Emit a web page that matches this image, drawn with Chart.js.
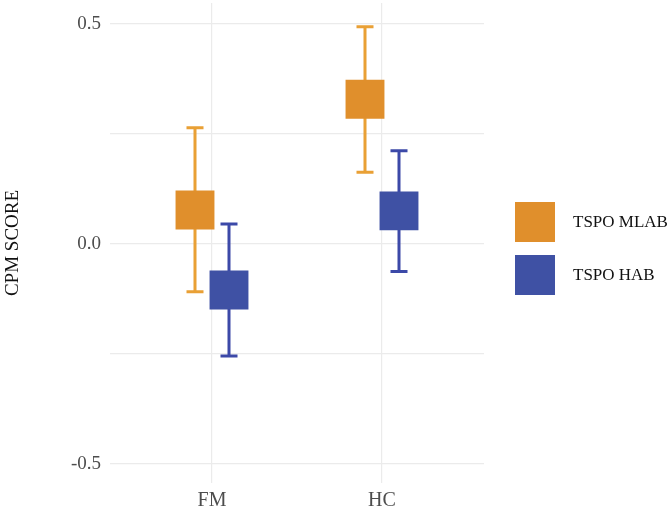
<!DOCTYPE html>
<html>
<head>
<meta charset="utf-8">
<script src="https://cdn.jsdelivr.net/npm/chart.js"></script>
<style>
  html, body { margin: 0; padding: 0; background: #fff; }
  #wrap { width: 671px; height: 511px; }
</style>
</head>
<body>
<div id="wrap"><canvas id="chart" width="671" height="511"></canvas></div>
<script>
// data
const categories = ['FM', 'HC'];
const seriesNames = ['TSPO MLAB', 'TSPO HAB'];
const mlabMean = [0.077, 0.329];
const mlabLow = [-0.109, 0.163];
const mlabHigh = [0.264, 0.494];
const habMean = [-0.105, 0.075];
const habLow = [-0.255, -0.063];
const habHigh = [0.045, 0.212];
const yTicks = [-0.5, -0.25, 0, 0.25, 0.5];

const dodge = 0.1;
const serif = '"Liberation Serif", "Times New Roman", serif';

function points(means, shift) {
    return categories.map((c, i) => ({ x: i + 1 + shift, y: means[i] }));
}

// error bars drawn under the squares, positioned through the scales
const errorBars = {
    id: 'errorBars',
    beforeDatasetsDraw(chart) {
        const ctx = chart.ctx;
        const yScale = chart.scales.y;
        chart.data.datasets.forEach((ds, i) => {
            const meta = chart.getDatasetMeta(i);
            meta.data.forEach((pt, j) => {
                const x = pt.x;
                const top = yScale.getPixelForValue(ds.high[j]);
                const bot = yScale.getPixelForValue(ds.low[j]);
                ctx.save();
                ctx.strokeStyle = ds.barColor;
                ctx.lineWidth = 3;
                ctx.beginPath();
                ctx.moveTo(x, top); ctx.lineTo(x, bot);
                ctx.moveTo(x - 8.5, top); ctx.lineTo(x + 8.5, top);
                ctx.moveTo(x - 8.5, bot); ctx.lineTo(x + 8.5, bot);
                ctx.stroke();
                ctx.restore();
            });
        });
    }
};

// legend on the right, ggplot style
const sideLegend = {
    id: 'sideLegend',
    afterDraw(chart) {
        const ctx = chart.ctx;
        chart.data.datasets.forEach((ds, i) => {
            const cy = 222 + i * 53;
            ctx.save();
            ctx.fillStyle = ds.backgroundColor;
            ctx.fillRect(515, cy - 20, 40, 40);
            ctx.fillStyle = '#111';
            ctx.font = '17px ' + serif;
            ctx.textBaseline = 'middle';
            ctx.fillText(ds.label, 573, cy + 1);
            ctx.restore();
        });
    }
};

new Chart(document.getElementById('chart'), {
    type: 'scatter',
    data: {
        datasets: [
            {
                label: seriesNames[0],
                data: points(mlabMean, -dodge),
                low: mlabLow,
                high: mlabHigh,
                backgroundColor: '#E08F2C',
                barColor: '#E9A035',
                pointStyle: 'rect',
                pointRadius: 27.5,
                borderWidth: 0
            },
            {
                label: seriesNames[1],
                data: points(habMean, dodge),
                low: habLow,
                high: habHigh,
                backgroundColor: '#3F51A4',
                barColor: '#3C49A8',
                pointStyle: 'rect',
                pointRadius: 27.5,
                borderWidth: 0
            }
        ]
    },
    options: {
        responsive: false,
        animation: false,
        events: [],
        layout: { autoPadding: false, padding: { top: 3, right: 187, left: 0, bottom: 0 } },
        plugins: {
            legend: { display: false },
            tooltip: { enabled: false }
        },
        scales: {
            x: {
                type: 'linear',
                min: 0.4,
                max: 2.6,
                afterBuildTicks: s => { s.ticks = categories.map((c, i) => ({ value: i + 1 })); },
                afterFit: s => { s.height = 28; },
                grid: { color: '#EBEBEB', lineWidth: 1.2, drawTicks: false },
                border: { display: false },
                ticks: {
                    padding: 6,
                    color: '#4D4D4D',
                    font: { family: serif, size: 20 },
                    callback: (v, i) => categories[i]
                }
            },
            y: {
                min: -0.544,
                max: 0.548,
                afterBuildTicks: s => { s.ticks = yTicks.map(v => ({ value: v })); },
                afterFit: s => { s.width = 110; },
                grid: { color: '#EBEBEB', lineWidth: 1.2, drawTicks: true, tickLength: 9, tickColor: 'rgba(0,0,0,0)' },
                border: { display: false },
                ticks: {
                    padding: 0,
                    color: '#4D4D4D',
                    font: { family: serif, size: 19, lineHeight: 0.3 },
                    callback: v => (Math.abs(v * 2 - Math.round(v * 2)) < 1e-9 ? v.toFixed(1) : '')
                },
                title: {
                    display: true,
                    text: 'CPM SCORE',
                    color: '#111',
                    font: { family: serif, size: 19 },
                    padding: { top: 2, bottom: 0 }
                }
            }
        }
    },
    plugins: [errorBars, sideLegend]
});
</script>
</body>
</html>
